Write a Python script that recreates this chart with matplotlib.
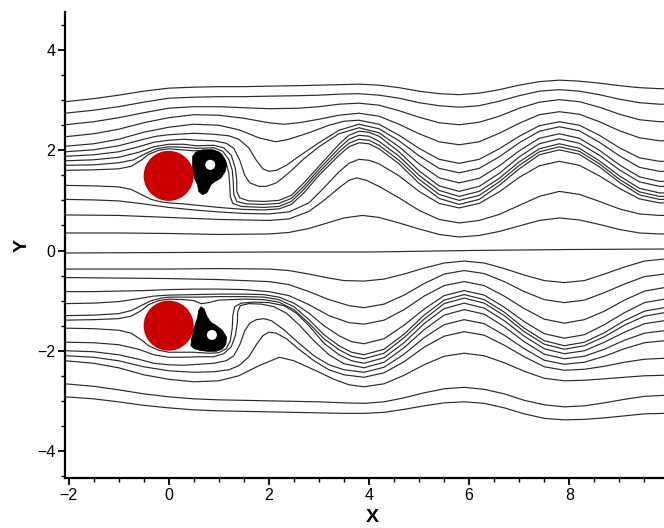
import matplotlib
matplotlib.use("Agg")
import matplotlib.pyplot as plt
from matplotlib.patches import Circle, Polygon
from matplotlib.ticker import MultipleLocator

plt.rcParams['font.family'] = ['Liberation Sans', 'DejaVu Sans']

# ---------------- data ----------------
cyl_x = [0.0, 0.0]
cyl_y = [1.49, -1.50]
cyl_r = 0.5

x_ticks = [-2, 0, 2, 4, 6, 8]
y_ticks = [-4, -2, 0, 2, 4]

# streamlines of the upper wake, top to bottom: lists of (x, y)
u01 = [(-2.07,2.97),(-1.5,3.03),(-1,3.1),(-0.5,3.18),(0,3.24),(0.5,3.26),(1,3.27),(1.5,3.27),(2,3.28),(2.6,3.29),(3.0,3.3),(3.4,3.31),(3.8,3.32),(4.2,3.30),(4.6,3.25),(5.0,3.18),(5.4,3.13),(5.8,3.11),(6.2,3.14),(6.6,3.21),(7.0,3.30),(7.4,3.37),(7.8,3.40),(8.2,3.38),(8.6,3.34),(9.0,3.29),(9.4,3.25),(9.8,3.23),(9.9,3.23)]
u02 = [(-2.07,2.74),(-1.5,2.8),(-1,2.87),(-0.5,2.96),(0,3.04),(0.5,3.06),(1,3.07),(1.5,3.07),(2,3.08),(2.6,3.09),(3.0,3.1),(3.4,3.12),(3.8,3.13),(4.2,3.10),(4.6,3.04),(5.0,2.95),(5.4,2.89),(5.8,2.86),(6.2,2.89),(6.6,2.98),(7.0,3.09),(7.4,3.18),(7.8,3.21),(8.2,3.18),(8.6,3.11),(9.0,3.02),(9.4,2.95),(9.8,2.92),(9.9,2.92)]
u03 = [(-2.07,2.51),(-1.5,2.57),(-1,2.65),(-0.5,2.75),(0,2.84),(0.5,2.87),(1,2.87),(1.5,2.85),(2,2.83),(2.6,2.84),(3.0,2.87),(3.4,2.92),(3.8,2.94),(4.2,2.90),(4.6,2.79),(5.0,2.66),(5.4,2.55),(5.8,2.51),(6.2,2.56),(6.6,2.68),(7.0,2.84),(7.4,2.96),(7.8,3.01),(8.2,2.97),(8.6,2.86),(9.0,2.72),(9.4,2.61),(9.8,2.57),(9.9,2.57)]
u04 = [(-2.07,2.27),(-1.5,2.33),(-1,2.42),(-0.5,2.55),(0,2.65),(0.5,2.71),(1,2.7),(1.5,2.64),(2.0,2.55),(2.3,2.52),(2.6,2.55),(3.0,2.62),(3.4,2.7),(3.8,2.74),(4.2,2.68),(4.6,2.52),(5.0,2.33),(5.4,2.17),(5.8,2.11),(6.2,2.17),(6.6,2.34),(7.0,2.54),(7.4,2.71),(7.8,2.77),(8.2,2.72),(8.6,2.57),(9.0,2.39),(9.4,2.25),(9.8,2.19),(9.9,2.19)]
u05 = [(-2.07,2.08),(-1.5,2.13),(-1,2.22),(-0.5,2.36),(0,2.46),(0.5,2.52),(1,2.5),(1.4,2.41),(1.8,2.25),(2.14,2.17),(2.4,2.22),(2.8,2.35),(3.2,2.5),(3.5,2.58),(3.8,2.60),(4.2,2.52),(4.6,2.30),(5.0,2.04),(5.4,1.82),(5.8,1.74),(6.2,1.82),(6.6,2.03),(7.0,2.28),(7.4,2.49),(7.8,2.57),(8.2,2.50),(8.6,2.30),(9.0,2.05),(9.4,1.85),(9.8,1.78),(9.9,1.78)]
u06 = [(-2.07,1.97),(-1.5,2.01),(-1,2.09),(-0.5,2.22),(-0.25,2.28),(0,2.31),(0.5,2.34),(0.9,2.32),(1.2,2.29),(1.4,2.22),(1.6,2.05),(1.75,1.8),(1.88,1.63),(2.0,1.58),(2.15,1.6),(2.35,1.7),(2.6,1.88),(3.0,2.15),(3.4,2.4),(3.8,2.52),(4.2,2.43),(4.6,2.19),(5.0,1.89),(5.4,1.64),(5.8,1.55),(6.2,1.64),(6.6,1.87),(7.0,2.15),(7.4,2.38),(7.8,2.47),(8.2,2.39),(8.6,2.16),(9.0,1.89),(9.4,1.66),(9.8,1.58),(9.9,1.58)]
u07 = [(-2.07,1.88),(-1.5,1.91),(-1,1.97),(-0.6,2.07),(-0.3,2.16),(0,2.2),(0.3,2.22),(0.6,2.2),(0.9,2.19),(1.15,2.14),(1.3,2.04),(1.42,1.8),(1.52,1.5),(1.62,1.35),(1.8,1.28),(1.95,1.28),(2.15,1.35),(2.4,1.55),(2.7,1.83),(3.0,2.07),(3.4,2.33),(3.8,2.45),(4.2,2.35),(4.6,2.07),(5.0,1.73),(5.4,1.45),(5.8,1.35),(6.2,1.44),(6.6,1.69),(7.0,1.99),(7.4,2.24),(7.8,2.33),(8.2,2.24),(8.6,2.0),(9.0,1.71),(9.4,1.47),(9.8,1.38),(9.9,1.38)]
u08 = [(-2.07,1.79),(-1.5,1.81),(-1,1.86),(-0.6,1.96),(-0.3,2.07),(0,2.12),(0.3,2.12),(0.55,2.09),(0.9,2.1),(1.1,2.05),(1.25,1.9),(1.33,1.65),(1.36,1.4),(1.36,1.18),(1.42,1.05),(1.6,0.99),(1.9,0.98),(2.2,1.0),(2.45,1.1),(2.7,1.35),(3.0,1.68),(3.4,2.12),(3.6,2.3),(3.8,2.38),(4.0,2.36),(4.2,2.28),(4.6,1.97),(5.0,1.59),(5.4,1.29),(5.8,1.18),(6.2,1.28),(6.6,1.54),(7.0,1.87),(7.4,2.13),(7.8,2.23),(8.2,2.14),(8.6,1.90),(9.0,1.61),(9.4,1.37),(9.8,1.28),(9.9,1.28)]
u09 = [(-2.07,1.70),(-1.5,1.71),(-1,1.75),(-0.7,1.81),(-0.45,1.94),(-0.25,2.03),(0,2.07),(0.3,2.06),(0.55,2.04),(0.9,2.05),(1.08,1.98),(1.2,1.82),(1.27,1.6),(1.29,1.35),(1.3,1.12),(1.36,0.98),(1.55,0.93),(1.9,0.92),(2.2,0.94),(2.45,1.04),(2.7,1.28),(3.0,1.62),(3.4,2.04),(3.6,2.22),(3.8,2.30),(4.0,2.28),(4.2,2.18),(4.6,1.88),(5.0,1.50),(5.4,1.20),(5.8,1.08),(6.2,1.18),(6.6,1.44),(7.0,1.77),(7.4,2.03),(7.8,2.13),(8.2,2.04),(8.6,1.79),(9.0,1.49),(9.4,1.24),(9.8,1.15),(9.9,1.15)]
u10 = [(-2.07,1.60),(-1.5,1.61),(-1,1.63),(-0.75,1.68),(-0.55,1.8),(-0.4,1.92),(-0.2,2.0),(0,2.03),(0.25,2.01),(0.5,1.99),(0.9,2.0),(1.05,1.93),(1.14,1.78),(1.2,1.55),(1.22,1.3),(1.23,1.08),(1.28,0.94),(1.45,0.88),(1.9,0.86),(2.2,0.88),(2.45,0.98),(2.7,1.22),(3.0,1.56),(3.4,1.97),(3.6,2.14),(3.8,2.22),(4.0,2.2),(4.2,2.10),(4.6,1.80),(5.0,1.42),(5.4,1.12),(5.8,1.0),(6.2,1.10),(6.6,1.37),(7.0,1.70),(7.4,1.97),(7.8,2.07),(8.2,1.98),(8.6,1.73),(9.0,1.42),(9.4,1.17),(9.8,1.08),(9.9,1.08)]
u11 = [(-2.07,1.30),(-1.5,1.29),(-1,1.27),(-0.75,1.22),(-0.55,1.12),(-0.35,1.02),(-0.15,0.97),(0,0.95),(0.3,0.93),(0.6,0.9),(1.0,0.86),(1.5,0.82),(1.9,0.81),(2.2,0.83),(2.45,0.92),(2.7,1.15),(3.0,1.5),(3.4,1.9),(3.6,2.07),(3.8,2.15),(4.0,2.13),(4.2,2.03),(4.6,1.73),(5.0,1.34),(5.4,1.04),(5.8,0.92),(6.2,1.02),(6.6,1.30),(7.0,1.63),(7.4,1.91),(7.8,2.01),(8.2,1.92),(8.6,1.67),(9.0,1.36),(9.4,1.11),(9.8,1.02),(9.9,1.02)]
u12 = [(-2.07,1.02),(-1.5,1.01),(-1,0.99),(-0.5,0.93),(0,0.86),(0.5,0.81),(1,0.77),(1.5,0.74),(2,0.73),(2.4,0.77),(2.8,0.95),(3.1,1.25),(3.4,1.57),(3.6,1.74),(3.8,1.82),(4.0,1.8),(4.2,1.73),(4.6,1.49),(5.0,1.18),(5.4,0.94),(5.8,0.85),(6.2,0.94),(6.6,1.17),(7.0,1.46),(7.4,1.69),(7.8,1.78),(8.2,1.70),(8.6,1.49),(9.0,1.24),(9.4,1.03),(9.8,0.95),(9.9,0.95)]
u13 = [(-2.07,0.71),(-1,0.7),(0,0.66),(1,0.62),(2,0.6),(2.4,0.63),(2.8,0.78),(3.1,1.0),(3.4,1.25),(3.6,1.4),(3.75,1.45),(3.95,1.4),(4.2,1.28),(4.6,1.05),(5.0,0.8),(5.4,0.62),(5.8,0.55),(6.2,0.6),(6.6,0.72),(7.0,0.9),(7.4,1.08),(7.8,1.18),(8.2,1.12),(8.6,0.98),(9.0,0.83),(9.4,0.73),(9.8,0.70),(9.9,0.70)]
u14 = [(-2.07,0.35),(-1,0.35),(0,0.34),(1,0.32),(2,0.33),(2.4,0.36),(2.8,0.44),(3.2,0.56),(3.5,0.65),(3.87,0.70),(4.2,0.66),(4.6,0.55),(5.0,0.43),(5.4,0.32),(5.8,0.27),(6.2,0.30),(6.6,0.38),(7.0,0.49),(7.4,0.60),(7.8,0.65),(8.2,0.61),(8.6,0.52),(9.0,0.42),(9.4,0.35),(9.8,0.33),(9.9,0.33)]

# centre streamline
c00 = [(-2.07,-0.05),(0,-0.04),(2,-0.03),(4,-0.03),(6,0.0),(8,0.02),(9.9,0.03)]

# streamlines of the lower wake, top to bottom
l01 = [(-2.07,-0.37),(-1,-0.37),(0,-0.37),(1,-0.36),(2,-0.37),(2.4,-0.4),(2.8,-0.47),(3.2,-0.55),(3.5,-0.6),(3.9,-0.61),(4.3,-0.57),(4.7,-0.47),(5.1,-0.35),(5.5,-0.25),(5.9,-0.21),(6.3,-0.25),(6.7,-0.36),(7.1,-0.49),(7.5,-0.60),(7.9,-0.64),(8.3,-0.60),(8.7,-0.47),(9.1,-0.33),(9.5,-0.21),(9.9,-0.17)]
l02 = [(-2.07,-0.54),(-1,-0.55),(0,-0.56),(1,-0.58),(2,-0.62),(2.4,-0.68),(2.8,-0.82),(3.2,-0.98),(3.6,-1.1),(3.9,-1.14),(4.3,-1.07),(4.7,-0.89),(5.1,-0.66),(5.5,-0.47),(5.9,-0.40),(6.3,-0.46),(6.7,-0.62),(7.1,-0.82),(7.5,-0.98),(7.9,-1.04),(8.3,-0.99),(8.7,-0.84),(9.1,-0.67),(9.5,-0.52),(9.9,-0.47)]
l03 = [(-2.07,-0.82),(-1.5,-0.82),(-1,-0.81),(-0.5,-0.8),(0,-0.78),(0.5,-0.77),(1,-0.77),(1.5,-0.78),(2,-0.82),(2.4,-0.9),(2.8,-1.08),(3.2,-1.3),(3.6,-1.44),(3.9,-1.47),(4.3,-1.39),(4.7,-1.18),(5.1,-0.91),(5.5,-0.70),(5.9,-0.62),(6.3,-0.70),(6.7,-0.91),(7.1,-1.16),(7.5,-1.37),(7.9,-1.45),(8.3,-1.38),(8.7,-1.21),(9.1,-0.99),(9.5,-0.81),(9.9,-0.74)]
l04 = [(-2.07,-1.06),(-1.5,-1.05),(-1,-1.02),(-0.6,-0.96),(-0.3,-0.91),(0,-0.89),(0.5,-0.88),(1,-0.87),(1.5,-0.87),(1.9,-0.88),(2.2,-0.93),(2.5,-1.05),(2.8,-1.25),(3.1,-1.5),(3.4,-1.7),(3.65,-1.82),(3.9,-1.86),(4.3,-1.76),(4.7,-1.49),(5.1,-1.17),(5.5,-0.90),(5.9,-0.80),(6.3,-0.89),(6.7,-1.13),(7.1,-1.42),(7.5,-1.66),(7.9,-1.75),(8.3,-1.68),(8.7,-1.48),(9.1,-1.24),(9.5,-1.04),(9.9,-0.97)]
l05 = [(-2.07,-1.30),(-1.5,-1.29),(-1,-1.26),(-0.75,-1.2),(-0.55,-1.1),(-0.35,-1.0),(-0.15,-0.95),(0,-0.93),(0.3,-0.93),(0.6,-0.93),(1.0,-0.92),(1.5,-0.92),(1.9,-0.93),(2.2,-0.98),(2.5,-1.12),(2.8,-1.38),(3.1,-1.68),(3.4,-1.9),(3.65,-2.03),(3.9,-2.08),(4.3,-1.97),(4.7,-1.67),(5.1,-1.29),(5.5,-0.99),(5.9,-0.88),(6.3,-0.98),(6.7,-1.23),(7.1,-1.55),(7.5,-1.80),(7.9,-1.90),(8.3,-1.83),(8.7,-1.64),(9.1,-1.40),(9.5,-1.21),(9.9,-1.14)]
l06 = [(-2.07,-1.39),(-1.5,-1.38),(-1,-1.36),(-0.75,-1.31),(-0.55,-1.2),(-0.4,-1.08),(-0.2,-1.0),(0,-0.97),(0.3,-0.98),(0.5,-1.0),(0.65,-1.06),(0.8,-1.04),(1.0,-0.99),(1.5,-0.97),(1.9,-0.98),(2.2,-1.03),(2.5,-1.18),(2.8,-1.45),(3.1,-1.76),(3.4,-1.98),(3.65,-2.11),(3.9,-2.16),(4.3,-2.05),(4.7,-1.74),(5.1,-1.37),(5.5,-1.06),(5.9,-0.95),(6.3,-1.05),(6.7,-1.30),(7.1,-1.62),(7.5,-1.87),(7.9,-1.97),(8.3,-1.90),(8.7,-1.72),(9.1,-1.49),(9.5,-1.31),(9.9,-1.24)]
l07 = [(-2.07,-1.55),(-1.5,-1.56),(-1,-1.59),(-0.75,-1.65),(-0.55,-1.78),(-0.4,-1.9),(-0.2,-1.99),(0,-2.03),(0.3,-2.03),(0.5,-2.03),(0.8,-2.05),(1.0,-2.04),(1.15,-1.96),(1.23,-1.8),(1.27,-1.55),(1.28,-1.3),(1.32,-1.12),(1.45,-1.05),(1.7,-1.03),(2.0,-1.04),(2.3,-1.1),(2.55,-1.25),(2.8,-1.5),(3.1,-1.85),(3.4,-2.08),(3.65,-2.2),(3.9,-2.25),(4.3,-2.14),(4.7,-1.84),(5.1,-1.46),(5.5,-1.16),(5.9,-1.05),(6.3,-1.15),(6.7,-1.40),(7.1,-1.71),(7.5,-1.96),(7.9,-2.06),(8.3,-2.0),(8.7,-1.83),(9.1,-1.63),(9.5,-1.46),(9.9,-1.40)]
l08 = [(-2.07,-1.83),(-1.5,-1.84),(-1,-1.88),(-0.6,-1.97),(-0.3,-2.08),(0,-2.13),(0.3,-2.13),(0.6,-2.12),(0.9,-2.12),(1.1,-2.06),(1.25,-1.92),(1.33,-1.7),(1.37,-1.45),(1.38,-1.22),(1.43,-1.1),(1.6,-1.06),(1.85,-1.07),(2.1,-1.12),(2.35,-1.25),(2.6,-1.48),(2.9,-1.8),(3.2,-2.08),(3.5,-2.26),(3.9,-2.34),(4.3,-2.23),(4.7,-1.94),(5.1,-1.58),(5.5,-1.29),(5.9,-1.18),(6.3,-1.27),(6.7,-1.52),(7.1,-1.82),(7.5,-2.07),(7.9,-2.16),(8.3,-2.11),(8.7,-1.97),(9.1,-1.79),(9.5,-1.65),(9.9,-1.60)]
l09 = [(-2.07,-2.0),(-1.5,-2.02),(-1,-2.08),(-0.6,-2.17),(-0.3,-2.25),(0,-2.28),(0.3,-2.29),(0.6,-2.27),(0.9,-2.25),(1.15,-2.2),(1.3,-2.1),(1.42,-1.88),(1.52,-1.6),(1.62,-1.45),(1.75,-1.38),(1.9,-1.36),(2.05,-1.4),(2.3,-1.58),(2.6,-1.85),(2.9,-2.1),(3.2,-2.28),(3.5,-2.38),(3.9,-2.43),(4.3,-2.33),(4.7,-2.07),(5.1,-1.74),(5.5,-1.48),(5.9,-1.38),(6.3,-1.46),(6.7,-1.69),(7.1,-1.96),(7.5,-2.19),(7.9,-2.27),(8.3,-2.23),(8.7,-2.11),(9.1,-1.96),(9.5,-1.84),(9.9,-1.80)]
l10 = [(-2.07,-2.1),(-1.5,-2.13),(-1,-2.2),(-0.5,-2.32),(0,-2.4),(0.5,-2.43),(0.9,-2.42),(1.2,-2.38),(1.4,-2.3),(1.6,-2.12),(1.75,-1.88),(1.88,-1.7),(2.0,-1.63),(2.15,-1.65),(2.35,-1.76),(2.6,-1.97),(2.9,-2.2),(3.2,-2.38),(3.5,-2.48),(3.9,-2.53),(4.3,-2.44),(4.7,-2.22),(5.1,-1.93),(5.5,-1.71),(5.9,-1.62),(6.3,-1.69),(6.7,-1.89),(7.1,-2.12),(7.5,-2.32),(7.9,-2.39),(8.3,-2.37),(8.7,-2.31),(9.1,-2.23),(9.5,-2.17),(9.9,-2.15)]
l11 = [(-2.07,-2.2),(-1.5,-2.25),(-1,-2.34),(-0.5,-2.48),(0,-2.57),(0.5,-2.62),(1,-2.6),(1.4,-2.5),(1.8,-2.3),(2.21,-2.13),(2.5,-2.2),(2.9,-2.38),(3.3,-2.57),(3.6,-2.68),(3.9,-2.72),(4.3,-2.66),(4.7,-2.49),(5.1,-2.28),(5.5,-2.11),(5.9,-2.05),(6.3,-2.10),(6.7,-2.24),(7.1,-2.41),(7.5,-2.55),(7.9,-2.60),(8.3,-2.59),(8.7,-2.56),(9.1,-2.53),(9.5,-2.50),(9.9,-2.49)]
l12 = [(-2.07,-2.66),(-1.5,-2.71),(-1,-2.78),(-0.5,-2.86),(0,-2.92),(0.5,-2.96),(1,-2.98),(1.5,-2.99),(2,-3.0),(2.5,-3.01),(3,-3.02),(3.5,-3.04),(3.9,-3.05),(4.3,-3.02),(4.7,-2.94),(5.1,-2.84),(5.5,-2.76),(5.9,-2.73),(6.3,-2.77),(6.7,-2.86),(7.1,-2.99),(7.5,-3.08),(7.9,-3.12),(8.3,-3.10),(8.7,-3.04),(9.1,-2.97),(9.5,-2.91),(9.9,-2.89)]
l13 = [(-2.07,-2.92),(-1.5,-2.96),(-1,-3.02),(-0.5,-3.09),(0,-3.14),(0.5,-3.18),(1,-3.2),(1.5,-3.21),(2,-3.22),(2.5,-3.23),(3,-3.24),(3.5,-3.25),(3.9,-3.25),(4.3,-3.23),(4.7,-3.17),(5.1,-3.10),(5.5,-3.04),(5.9,-3.02),(6.3,-3.05),(6.7,-3.14),(7.1,-3.26),(7.5,-3.35),(7.9,-3.38),(8.3,-3.37),(8.7,-3.34),(9.1,-3.3),(9.5,-3.26),(9.9,-3.25)]

# recirculation bubbles (outline) and their vortex-core holes
blob_upper = [(0.477,1.877),(0.543,1.963),(0.677,2.01),(0.877,2.01),(1.01,1.963),(1.11,1.843),(1.157,1.712),(1.13,1.579),(1.043,1.446),(0.93,1.38),(0.843,1.314),(0.797,1.215),(0.757,1.148),(0.677,1.116),(0.597,1.182),(0.577,1.314),(0.51,1.446),(0.477,1.645),(0.477,1.81)]
blob_lower = [(0.643,-1.122),(0.71,-1.168),(0.757,-1.301),(0.843,-1.434),(0.957,-1.5),(1.077,-1.599),(1.157,-1.732),(1.143,-1.863),(1.077,-1.962),(0.957,-2.01),(0.81,-2.016),(0.643,-1.996),(0.51,-1.962),(0.443,-1.897),(0.463,-1.732),(0.51,-1.533),(0.577,-1.335),(0.597,-1.2)]
hole_x = [0.83, 0.863]
hole_y = [1.71, -1.685]
hole_r = 0.1

streamlines = [u01, u02, u03, u04, u05, u06, u07, u08, u09, u10, u11, u12, u13, u14,
               c00,
               l01, l02, l03, l04, l05, l06, l07, l08, l09, l10, l11, l12, l13]

# ---------------- figure ----------------
fig = plt.figure(figsize=(6.64, 5.28), dpi=100)
ax = fig.add_axes([65/664, 50/528, 599/664, 466/528])

for line in streamlines:
    xs = [p[0] for p in line]
    ys = [p[1] for p in line]
    ax.plot(xs, ys, color='#2a2a2a', lw=0.85, solid_joinstyle='round', zorder=1)

for blob in (blob_upper, blob_lower):
    ax.add_patch(Polygon(blob, closed=True, facecolor='black', edgecolor='black', lw=0.5, zorder=2))
for hx, hy in zip(hole_x, hole_y):
    ax.add_patch(Circle((hx, hy), hole_r, facecolor='white', edgecolor='none', zorder=3))
for cx, cy in zip(cyl_x, cyl_y):
    ax.add_patch(Circle((cx, cy), cyl_r, facecolor='#cc0000', edgecolor='none', zorder=4))

ax.set_xlim(-2.07, 9.89)
ax.set_ylim(-4.54, 4.76)
ax.set_xticks(x_ticks)
ax.set_yticks(y_ticks)
ax.xaxis.set_minor_locator(MultipleLocator(0.5))
ax.yaxis.set_minor_locator(MultipleLocator(0.5))
ax.tick_params(which='major', direction='out', length=5, width=1.3, labelsize=11.5, pad=2, colors='black')
ax.tick_params(which='minor', direction='out', length=2.8, width=1.0)
for s in ('top', 'right'):
    ax.spines[s].set_visible(False)
for s in ('left', 'bottom'):
    ax.spines[s].set_linewidth(1.6)

fig.text(372/664, 1 - 518/528, 'X', ha='center', va='center', fontsize=14, fontweight='bold')
fig.text(22/664, 1 - 246/528, 'Y', ha='center', va='center', fontsize=14, fontweight='bold', rotation=90)

fig.savefig('out.png', dpi=100)
